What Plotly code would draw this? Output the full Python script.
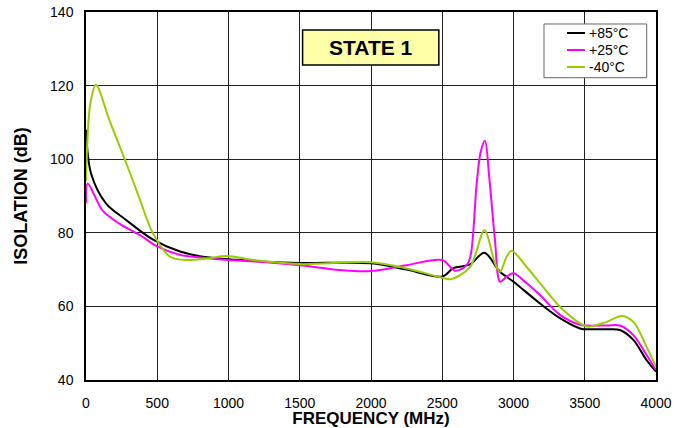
import plotly.graph_objects as go

# +85°C
f85 = [0, 35, 140, 281, 468, 660, 823, 1000, 1200, 1500, 2000, 2250, 2500,
       2578, 2695, 2796, 2905, 3000, 3186, 3326, 3467, 3500, 3654, 3747, 3841, 3934, 4000]
v85 = [108, 96.2, 88.0, 83.5, 78.2, 74.9, 73.5, 72.8, 72.3, 71.8, 71.7, 70.0, 68.1,
       70.4, 71.4, 74.6, 69.4, 66.7, 60.8, 56.8, 54.0, 53.8, 53.8, 53.6, 50.9, 45.4, 42.3]

# +25°C
f25 = [0, 12, 117, 234, 386, 496, 660, 820, 1000, 1200, 1500, 1800, 2000, 2250, 2500,
       2590, 2672, 2700, 2742, 2770, 2800, 2830, 2870, 2906, 2952, 3000, 3093, 3186, 3326,
       3467, 3500, 3654, 3747, 3841, 3934, 4000]
v25 = [88, 93.4, 86.0, 82.5, 79.2, 76.4, 74.0, 73.2, 72.6, 72.2, 71.2, 69.8, 69.6, 71.2, 72.6,
       69.7, 71.2, 74.0, 93.5, 102, 105, 95, 78, 66.7, 68.1, 69.0, 66.3, 63.1, 57.7,
       55.0, 54.8, 54.8, 54.8, 52.2, 46.8, 42.7]

# -40°C
f40 = [0, 30, 70, 164, 269, 374, 468, 590, 707, 847, 988, 1175,
       1500, 2000, 2250, 2500, 2560, 2695, 2796, 2870, 2905, 2952, 2987, 3093, 3186, 3326,
       3467, 3526, 3654, 3760, 3841, 3934, 4000]
v40 = [94, 115, 120.2, 110.6, 100.3, 89.5, 80.0, 73.5, 72.6, 73.0, 73.7, 72.6,
       71.5, 72.0, 70.3, 67.8, 67.4, 70.7, 80.7, 71.7, 69.4, 73.5, 75.1, 70.7, 66.3, 59.9,
       55.4, 54.5, 55.8, 57.4, 55.8, 49.0, 43.6]

series_names = ["+85°C", "+25°C", "-40°C"]
series_colors = ["#000000", "#FF00FF", "#99CC00"]
x_ticks = [0, 500, 1000, 1500, 2000, 2500, 3000, 3500, 4000]
y_ticks = [40, 60, 80, 100, 120, 140]

FONT = "Liberation Sans, Arial, sans-serif"

fig = go.Figure()
for name, color, fx, vy in zip(series_names, series_colors, [f85, f25, f40], [v85, v25, v40]):
    fig.add_trace(go.Scatter(x=fx, y=vy, mode="lines", name=name, showlegend=False,
                             line=dict(color=color, width=2, shape="spline", smoothing=0.9)))

shapes = [
    # STATE 1 box
    dict(type="rect", xref="paper", yref="paper", x0=0.380, x1=0.619, y0=0.856, y1=0.951,
         fillcolor="#FFFFA8", line=dict(color="black", width=1.5), layer="above"),
    # legend box
    dict(type="rect", xref="paper", yref="paper", x0=0.8035, x1=0.9837, y0=0.8215, y1=0.9674,
         fillcolor="white", line=dict(color="#666666", width=1), layer="above"),
]
annotations = [
    dict(text="<b>STATE 1</b>", xref="paper", yref="paper", x=0.4995, y=0.9035,
         xanchor="center", yanchor="middle", showarrow=False,
         font=dict(size=21, family=FONT, color="black")),
]
legend_y = [0.9429, 0.8967, 0.8505]
for name, color, ly in zip(series_names, series_colors, legend_y):
    shapes.append(dict(type="line", xref="paper", yref="paper", x0=0.8439, x1=0.8754, y0=ly, y1=ly,
                       line=dict(color=color, width=2), layer="above"))
    annotations.append(dict(text=name, xref="paper", yref="paper", x=0.8790, y=ly,
                            xanchor="left", yanchor="middle", showarrow=False,
                            font=dict(size=14, family=FONT, color="black")))

fig.update_layout(
    width=688, height=428,
    margin=dict(l=86, r=32, t=12, b=48),
    paper_bgcolor="white", plot_bgcolor="white",
    font=dict(family=FONT, size=14, color="black"),
    showlegend=False,
    shapes=shapes,
    annotations=annotations,
)
fig.update_xaxes(range=[0, 4000], tickvals=x_ticks, ticks="", ticklabelstandoff=9,
                 showgrid=True, gridcolor="#222222", gridwidth=1,
                 showline=True, linecolor="black", linewidth=1.5, mirror=True, zeroline=False,
                 ticklabeloverflow="allow",
                 title=dict(text="<b>FREQUENCY (MHz)</b>", font=dict(size=17), standoff=13),
                 automargin=False)
fig.update_yaxes(range=[40, 140], tickvals=y_ticks, ticks="", ticklabelstandoff=8,
                 showgrid=True, gridcolor="#222222", gridwidth=1,
                 showline=True, linecolor="black", linewidth=1.5, mirror=True, zeroline=False,
                 ticklabeloverflow="allow",
                 title=dict(text="<b>ISOLATION (dB)</b>", font=dict(size=18), standoff=18),
                 automargin=False)

fig.write_html("out.html",
               config={"displayModeBar": False},
               post_script="document.body.style.margin='0';document.body.style.overflow='hidden';")
